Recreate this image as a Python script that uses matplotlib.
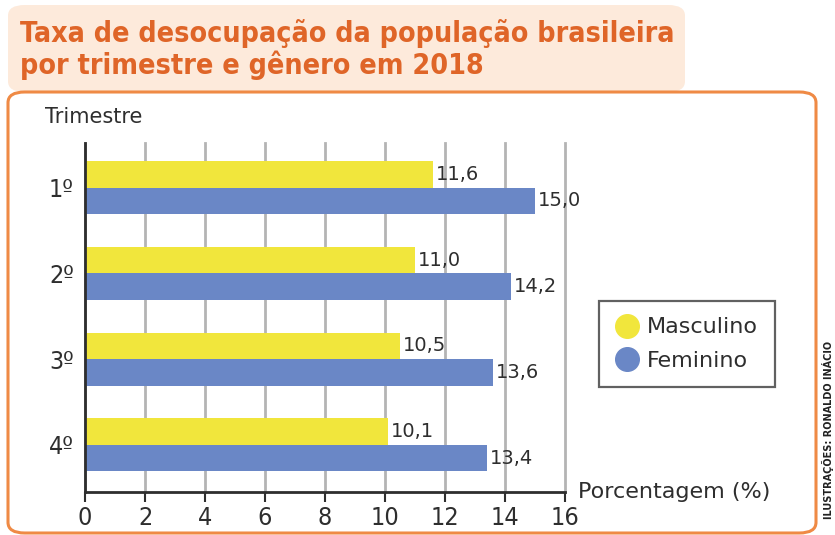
import matplotlib
matplotlib.use("Agg")
import matplotlib.pyplot as plt
from matplotlib import font_manager as fm
from matplotlib.patches import FancyBboxPatch
from matplotlib.lines import Line2D

# ---- data ----
trimestres = ["1º", "2º", "3º", "4º"]
masculino = [11.6, 11.0, 10.5, 10.1]
feminino = [15.0, 14.2, 13.6, 13.4]
series_names = ["Masculino", "Feminino"]
xticks = [0, 2, 4, 6, 8, 10, 12, 14, 16]
title = "Taxa de desocupação da população brasileira\npor trimestre e gênero em 2018"

names = {f.name for f in fm.fontManager.ttflist}
narrow = 'Liberation Sans Narrow' if 'Liberation Sans Narrow' in names else 'DejaVu Sans'
plt.rcParams['font.family'] = [narrow, 'DejaVu Sans']

YEL = "#f1e63c"
BLU = "#6a87c6"
ORANGE = "#ef8a45"
TITLE_C = "#df6528"
TXT = "#2e2e2e"

W, H = 835, 535
fig = plt.figure(figsize=(W / 100, H / 100), dpi=100)

def fx(px): return px / W
def fy(py): return 1 - py / H

# title box
fig.patches.append(FancyBboxPatch((fx(8), fy(92)), fx(677), fy(5) - fy(92),
                                  boxstyle="round,pad=0,rounding_size=0.02",
                                  transform=fig.transFigure, facecolor="#fdeadb",
                                  edgecolor="none", zorder=0))
# orange frame
fig.patches.append(FancyBboxPatch((fx(8), fy(533)), fx(808), fy(92) - fy(533),
                                  boxstyle="round,pad=0,rounding_size=0.02",
                                  transform=fig.transFigure, facecolor="white",
                                  edgecolor=ORANGE, linewidth=2.2, zorder=1))

ttl = fig.text(fx(20), fy(19), title, fontsize=21, fontweight="bold", color=TITLE_C,
               va="top", ha="left", linespacing=1.12, zorder=3, fontstretch="condensed")
renderer = fig.canvas.get_renderer()
wpx = ttl.get_window_extent(renderer).width
if wpx > 654:
    ttl.set_fontsize(21 * 654 / wpx)

ax = fig.add_axes([fx(85), fy(492), fx(565) - fx(85), fy(143) - fy(492)])
ax.set_zorder(2)
ax.patch.set_alpha(0)

pos = list(range(len(trimestres)))
h = 0.31
ax.barh([p - h / 2 for p in pos], masculino, height=h, color=YEL, zorder=3)
ax.barh([p + h / 2 for p in pos], feminino, height=h, color=BLU, zorder=3)
for p, m, f in zip(pos, masculino, feminino):
    ax.text(m + 0.1, p - h / 2, f"{m:.1f}".replace(".", ","), va="center", ha="left",
            fontsize=14, color=TXT, zorder=4)
    ax.text(f + 0.1, p + h / 2, f"{f:.1f}".replace(".", ","), va="center", ha="left",
            fontsize=14, color=TXT, zorder=4)

ax.set_xlim(0, 16)
ax.set_ylim(3.55, -0.52)
ax.set_xticks(xticks)
ax.set_xticklabels([str(t) for t in xticks], fontsize=18, color=TXT, fontstretch="condensed")
ax.set_yticks(pos)
ax.set_yticklabels(trimestres, fontsize=18, color=TXT, fontstretch="condensed")
ax.tick_params(axis='y', length=0, pad=8)
ax.tick_params(axis='x', length=7, width=1.5, color=TXT, pad=3, direction='out')
for t in xticks:
    ax.axvline(t, color="#b4b4b4", linewidth=2, zorder=1, clip_on=False)
for s in ["top", "right"]:
    ax.spines[s].set_visible(False)
ax.spines["left"].set_color(TXT)
ax.spines["left"].set_linewidth(2)
ax.spines["bottom"].set_color(TXT)
ax.spines["bottom"].set_linewidth(2)
ax.spines["left"].set_zorder(5)
ax.spines["bottom"].set_zorder(5)

fig.text(fx(45), fy(117), "Trimestre", fontsize=15, color=TXT, va="center", ha="left")
fig.text(fx(578), fy(492), "Porcentagem (%)", fontsize=16, color=TXT, va="center", ha="left")

handles = [Line2D([], [], marker="o", linestyle="none", markersize=17, markerfacecolor=YEL,
                  markeredgecolor=YEL),
           Line2D([], [], marker="o", linestyle="none", markersize=17, markerfacecolor=BLU,
                  markeredgecolor=BLU)]
leg = fig.legend(handles, series_names, loc="center", bbox_to_anchor=(fx(687), fy(344)),
                 frameon=True, fancybox=False, fontsize=16, handletextpad=0.4,
                 labelspacing=0.6, borderpad=0.75, handlelength=1.0, borderaxespad=0)
leg.get_frame().set_edgecolor("#3a3a3a")
leg.get_frame().set_linewidth(1.6)
for t in leg.get_texts():
    t.set_color(TXT)

fig.text(fx(828), fy(430), "ILUSTRAÇÕES: RONALDO INÁCIO", rotation=90, fontsize=7,
         color="#222222", va="center", ha="center", fontweight="bold")

fig.savefig("out.png", dpi=100)
